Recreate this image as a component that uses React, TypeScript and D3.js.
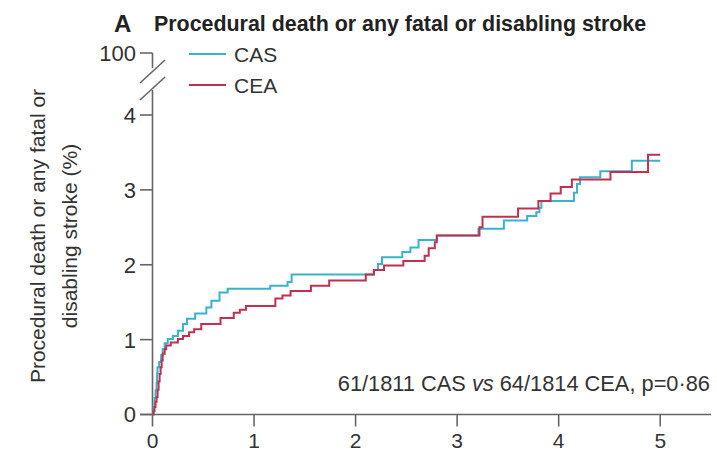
import React from 'react';
import * as d3 from 'd3';

// years since randomisation / cumulative risk (%)
const casYears = [0, 0.01, 0.02, 0.03, 0.04, 0.045, 0.05, 0.065, 0.085, 0.1, 0.12, 0.15, 0.2, 0.25, 0.3, 0.34, 0.42, 0.53, 0.58, 0.66, 0.74, 1.16, 1.33, 1.37, 2.18, 2.22, 2.26, 2.46, 2.54, 2.62, 2.8, 3.21, 3.46, 3.69, 3.78, 3.81, 3.83, 4.15, 4.18, 4.21, 4.41, 4.72, 5.0];
const casRisk = [0, 0.1, 0.22, 0.32, 0.42, 0.55, 0.63, 0.7, 0.79, 0.87, 0.95, 1.01, 1.05, 1.12, 1.21, 1.28, 1.35, 1.43, 1.52, 1.63, 1.68, 1.72, 1.77, 1.87, 1.93, 2.01, 2.1, 2.17, 2.23, 2.33, 2.39, 2.48, 2.59, 2.65, 2.7, 2.76, 2.85, 2.96, 3.08, 3.17, 3.25, 3.39, 3.39];

const ceaYears = [0, 0.01, 0.02, 0.03, 0.04, 0.05, 0.06, 0.07, 0.08, 0.09, 0.1, 0.12, 0.135, 0.18, 0.25, 0.3, 0.36, 0.41, 0.48, 0.67, 0.8, 0.86, 0.92, 1.21, 1.28, 1.36, 1.56, 1.74, 2.1, 2.18, 2.28, 2.47, 2.68, 2.72, 2.78, 2.8, 3.22, 3.25, 3.6, 3.8, 3.92, 4.02, 4.13, 4.51, 4.88, 5.0];
const ceaRisk = [0, 0.05, 0.1, 0.17, 0.23, 0.33, 0.44, 0.54, 0.63, 0.72, 0.81, 0.87, 0.92, 0.96, 1.01, 1.05, 1.1, 1.14, 1.21, 1.29, 1.36, 1.4, 1.45, 1.55, 1.59, 1.65, 1.72, 1.79, 1.87, 1.93, 1.99, 2.05, 2.12, 2.22, 2.3, 2.39, 2.5, 2.64, 2.75, 2.85, 2.95, 3.04, 3.14, 3.24, 3.47, 3.47];

const xTicks = [0, 1, 2, 3, 4, 5];
const yTicks = [0, 1, 2, 3, 4];
const yTopLabel = '100';

const series = [
  { name: 'CAS', color: '#38b3ca', years: casYears, risk: casRisk },
  { name: 'CEA', color: '#c0304f', years: ceaYears, risk: ceaRisk },
];

const FONT = '"Liberation Sans", Arial, sans-serif';
const AXIS = '#666';

export default function App() {
  const width = 717;
  const height = 453;

  const x = d3.scaleLinear().domain([0, 5.5]).range([152.5, 711]);
  const y = d3.scaleLinear().domain([0, 4]).range([414.5, 115]);

  // broken axis: top tick (100) sits above the break
  const yTop = y(4) - 62;
  const brk1 = yTop + 19;
  const brk2 = yTop + 36;

  const line = d3
    .line<[number, number]>()
    .x(d => x(d[0]))
    .y(d => y(d[1]))
    .curve(d3.curveStepAfter);

  return (
    <svg width={width} height={height} style={{ position: 'absolute', left: 0, top: 0 }} fontFamily={FONT}>
      {/* title */}
      <text x={114} y={32} fontSize={24} fontWeight="bold" fill="#222">A</text>
      <text x={154} y={31} fontSize={21.4} fontWeight="bold" fill="#222">Procedural death or any fatal or disabling stroke</text>

      {/* y axis */}
      <g stroke={AXIS} strokeWidth={1.6} fill="none">
        <line x1={x(0)} x2={x(0)} y1={y(0)} y2={brk2 + 1} />
        <line x1={x(0)} x2={x(0)} y1={yTop} y2={brk1 - 4} />
        <line x1={140} x2={x(0)} y1={yTop} y2={yTop} />
        <line x1={140} x2={165} y1={brk1 + 11} y2={brk1 - 12} />
        <line x1={140} x2={165} y1={brk2 + 11} y2={brk2 - 12} />
        {yTicks.map(t => (
          <line key={t} x1={140} x2={x(0)} y1={y(t)} y2={y(t)} />
        ))}
      </g>
      {yTicks.map(t => (
        <text key={t} x={136} y={y(t)} dy="0.36em" textAnchor="end" fontSize={22} fill="#333">{t}</text>
      ))}
      <text x={136} y={yTop} dy="0.36em" textAnchor="end" fontSize={22} fill="#333">{yTopLabel}</text>

      {/* x axis */}
      <g stroke={AXIS} strokeWidth={1.6}>
        <line x1={140} x2={x(5.5)} y1={y(0)} y2={y(0)} />
        {xTicks.map(t => (
          <line key={t} x1={x(t)} x2={x(t)} y1={y(0)} y2={y(0) + 12} />
        ))}
      </g>
      {xTicks.map(t => (
        <text key={t} x={x(t)} y={448} textAnchor="middle" fontSize={21} fill="#333">{t}</text>
      ))}

      {/* y label */}
      <g transform={`translate(45,236) rotate(-90)`}>
        <text textAnchor="middle" fontSize={21} fill="#333">Procedural death or any fatal or</text>
      </g>
      <g transform={`translate(77,236) rotate(-90)`}>
        <text textAnchor="middle" fontSize={21} fill="#333">disabling stroke (%)</text>
      </g>

      {/* curves */}
      {series.map(s => (
        <path
          key={s.name}
          d={line(s.years.map((v, i) => [v, s.risk[i]] as [number, number])) || ''}
          fill="none"
          stroke={s.color}
          strokeWidth={2}
        />
      ))}

      {/* legend */}
      {series.map((s, i) => (
        <g key={s.name} transform={`translate(189,${yTop + 1 + i * 31})`}>
          <line x1={0} x2={37} y1={0} y2={0} stroke={s.color} strokeWidth={2} />
          <text x={45} y={0} dy="0.36em" fontSize={21} fill="#333">{s.name}</text>
        </g>
      ))}

      {/* annotation */}
      <text x={710} y={391} textAnchor="end" fontSize={21.8} fill="#333">
        61/1811 CAS <tspan fontStyle="italic">vs</tspan> 64/1814 CEA, p=0·86
      </text>
    </svg>
  );
}
